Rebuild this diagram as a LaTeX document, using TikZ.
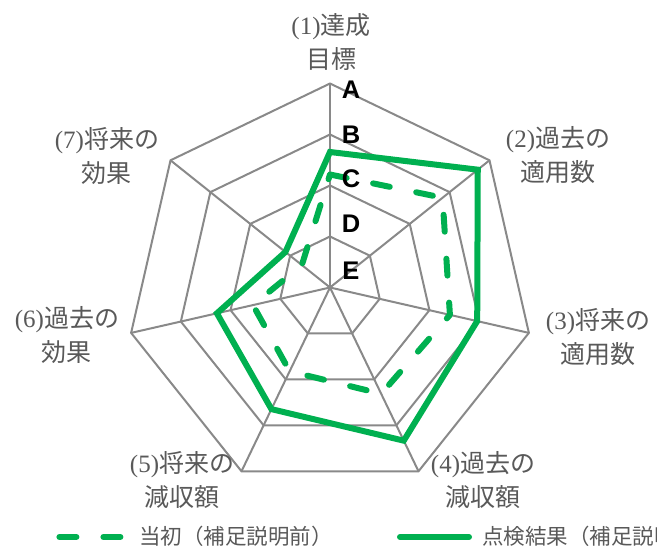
\documentclass[tikz,border=0pt]{standalone}
\usepackage{fontspec}
\setmainfont{Liberation Serif}
\newfontfamily\cjkfont{Noto Sans CJK JP}
\newfontfamily\lblfont{Liberation Sans}
\newcommand{\jt}[1]{{\cjkfont #1}}
\usetikzlibrary{calc}
\definecolor{gridgray}{RGB}{137,137,137}
\definecolor{txtgray}{RGB}{89,89,89}
\definecolor{xlgreen}{RGB}{0,176,80}
\begin{document}
\begin{tikzpicture}[x=1pt,y=-1pt,
  gridline/.style={draw=gridgray,line width=2pt},
  solidser/.style={draw=xlgreen,line width=6pt,line join=miter},
  dashser/.style={draw=xlgreen,line width=6pt,line cap=round,line join=round,dash pattern=on 17pt off 27pt},
  axislabel/.style={text=txtgray,align=center,font=\fontsize{25}{34}\selectfont,inner sep=0pt},
  levellabel/.style={text=black,font=\lblfont\bfseries\fontsize{25.5}{26}\selectfont,inner sep=0pt},
  legendtext/.style={text=txtgray,anchor=west,font=\cjkfont\fontsize{21.5}{23}\selectfont,inner sep=0pt}]
\useasboundingbox (0,0) rectangle (657,546);
\clip (0,0) rectangle (657,546);
\begin{scope}[shift={(330,287.5)}]
  % rings
  \foreach \l in {1,2,3,4}{
    \draw[gridline] ({-90}:{\l*51}) \foreach \k in {1,...,6}{ -- ({\k*360/7-90}:{\l*51}) } -- cycle;
  }
  % spokes
  \foreach \k in {0,...,6}{
    \draw[gridline] (0,0) -- ({\k*360/7-90}:204);
  }
  % series: initial (dashed)
  \draw[dashser] (-90:113) -- (-38.571:144) -- (12.857:123) -- (64.286:118)
     -- (115.714:93) -- (167.143:79) -- (218.571:36) -- cycle;
  % series: result (solid)
  \draw[solidser] (-90:135.5) -- (-38.571:189) -- (12.857:151) -- (64.286:170)
     -- (115.714:135) -- (167.143:116) -- (218.571:57) -- cycle;
\end{scope}
% level labels
\node[levellabel] (lA) at (351,90) {A};
\node[levellabel] (lB) at (351,134.5) {B};
\node[levellabel] (lC) at (351,178.5) {C};
\node[levellabel] (lD) at (351,223.5) {D};
\node[levellabel] (lE) at (351,270.5) {E};
% axis labels
\node[axislabel] (ax1) at (331,42) {(1)\jt{達成}\\\jt{目標}};
\node[axislabel] (ax2) at (558,155.5) {(2)\jt{過去の}\\\jt{適用数}};
\node[axislabel] (ax3) at (598,337.5) {(3)\jt{将来の}\\\jt{適用数}};
\node[axislabel] (ax4) at (483,480) {(4)\jt{過去の}\\\jt{減収額}};
\node[axislabel] (ax5) at (182,480) {(5)\jt{将来の}\\\jt{減収額}};
\node[axislabel] (ax6) at (67,335) {(6)\jt{過去の}\\\jt{効果}};
\node[axislabel] (ax7) at (107,156) {(7)\jt{将来の}\\\jt{効果}};
% legend
\coordinate (lg1a) at (59.4,537);
\coordinate (lg1b) at (121,537);
\draw[dashser] (lg1a) -- (lg1b);
\node[legendtext] (lt1) at (139,536.5) {当初（補足説明前）};
\coordinate (lg2a) at (400,537);
\coordinate (lg2b) at (469,537);
\draw[draw=xlgreen,line width=6pt,line cap=round] (lg2a) -- (lg2b);
\node[legendtext] (lt2) at (482,536.5) {点検結果（補足説明後）};
\end{tikzpicture}
\end{document}
